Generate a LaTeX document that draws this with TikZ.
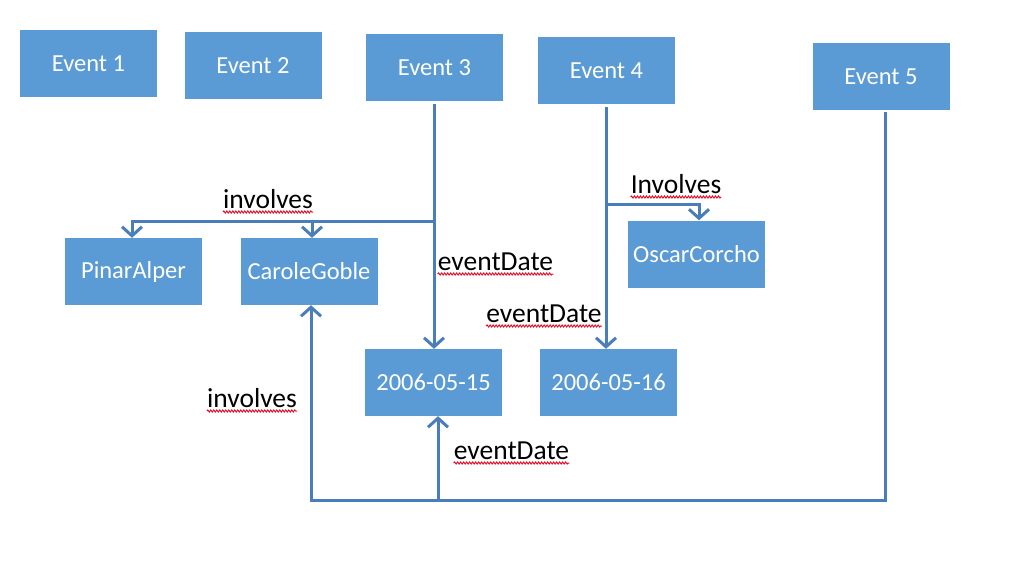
\documentclass[tikz,border=0pt]{standalone}
\usepackage{fontspec}
\setmainfont{Carlito}
\usetikzlibrary{arrows.meta,decorations.pathmorphing}
\definecolor{boxblue}{HTML}{5B9BD5}
\definecolor{lineblue}{HTML}{4A7EBB}
\definecolor{squig}{HTML}{E0102A}
\tikzset{
  box/.style={rectangle, fill=boxblue, draw=none, minimum width=137pt, minimum height=67pt, inner sep=0pt, text=white, font=\fontsize{24.5}{29}\selectfont},
  conn/.style={draw=lineblue, line width=3pt},
  arr/.style={conn, -{Straight Barb[length=9pt,width=20pt,line width=3pt]}},
  lab/.style={anchor=base, inner sep=0pt, text=black, font=\fontsize{27.5}{32}\selectfont},
  wavy/.style={draw=squig, line width=1pt, decorate, decoration={snake, amplitude=1pt, segment length=3pt}}
}
\newcommand{\squiggle}[1]{\draw[wavy] ([yshift=-4pt]#1.base west) -- ([yshift=-4pt]#1.base east);}
\begin{document}
\begin{tikzpicture}[x=1pt,y=-1pt]
\useasboundingbox[fill=white] (0,0) rectangle (1013,578);
% boxes
\node[box] (e1) at (88.5,63.5) {Event 1};
\node[box] (e2) at (253,65.5) {Event 2};
\node[box] (e3) at (434.5,67.5) {Event 3};
\node[box] (e4) at (606.5,70.5) {Event 4};
\node[box] (e5) at (881,76.5) {Event 5};
\node[box] (pa) at (133.5,271.5) {PinarAlper};
\node[box] (cg) at (309,271.5) {CaroleGoble};
\node[box] (oc) at (696.5,254) {OscarCorcho};
\node[box] (d15) at (433.5,382.5) {2006-05-15};
\node[box] (d16) at (608.5,382.5) {2006-05-16};
% helper coordinates
\coordinate (b3) at (434,221);
\coordinate (b3l) at (132,221);
\coordinate (b3c) at (312,221);
\coordinate (b4) at (606,204);
\coordinate (b4r) at (699,204);
\coordinate (b5) at (885,500);
\coordinate (bl) at (311,500);
\coordinate (bm) at (438,500);
% Event 3
\draw[arr] ([yshift=-3pt]e3.south -| b3) -- (b3 |- d15.north);
\draw[arr] (b3) -- (b3l) -- (b3l |- pa.north);
\draw[arr] (b3c) -- (b3c |- cg.north);
% Event 4
\draw[arr] ([yshift=-3pt]e4.south -| b4) -- (b4 |- d16.north);
\draw[arr] (b4) -- (b4r) -- (b4r |- oc.north);
% Event 5
\draw[arr] ([yshift=-2pt]e5.south -| b5) -- (b5) -- (bl) -- (bl |- cg.south);
\draw[arr] (bm) -- (bm |- d15.south);
% labels
\node[lab] (l1) at (268,208) {involves};
\node[lab] (l2) at (495.5,270) {eventDate};
\node[lab] (l3) at (676,193) {Involves};
\node[lab] (l4) at (544,322) {eventDate};
\node[lab] (l5) at (252,407) {involves};
\node[lab] (l6) at (511.5,459) {eventDate};
\squiggle{l1}
\squiggle{l2}
\squiggle{l3}
\squiggle{l4}
\squiggle{l5}
\squiggle{l6}
\end{tikzpicture}
\end{document}
